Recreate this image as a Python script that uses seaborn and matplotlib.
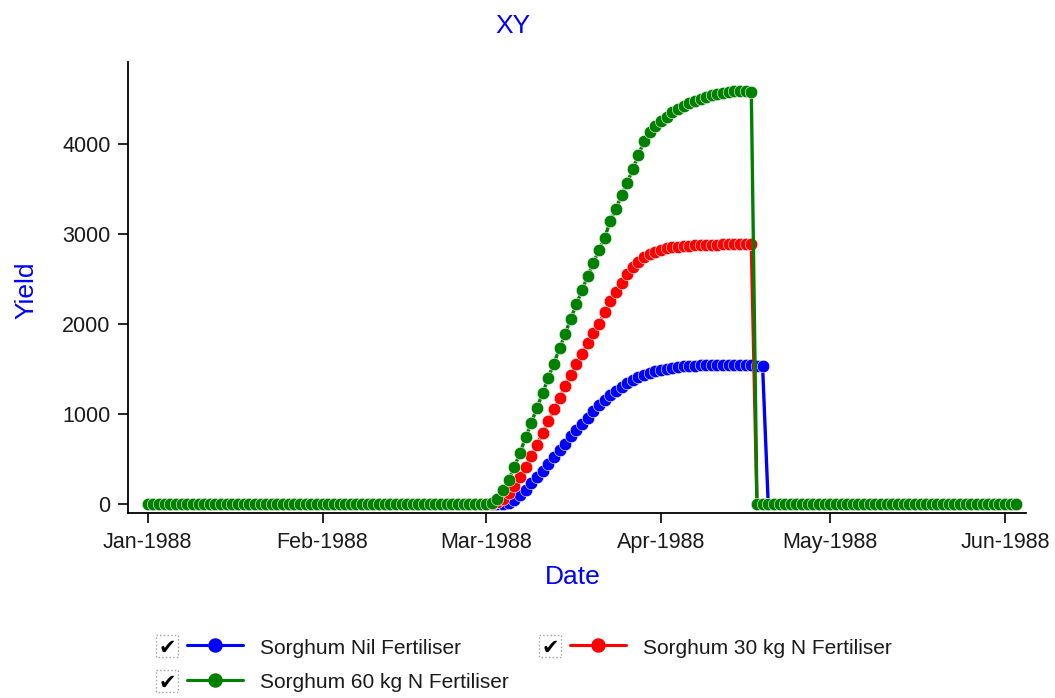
import pandas as pd
import matplotlib
matplotlib.use('Agg')
import matplotlib.pyplot as plt
import matplotlib.dates as mdates
from matplotlib.patches import Rectangle
from matplotlib.lines import Line2D
import seaborn as sns

# daily dates on the chart, and first day of the growing season
start_date = '1988-01-01'
end_date = '1988-06-03'
season_start = '1988-03-02'

# daily yield from season start (zero outside the season)
nil_yield = [0, 0, 0, 10, 40, 95, 160, 230, 300, 370,
             440, 520, 600, 670, 750, 820, 890, 960, 1030, 1095,
             1155, 1215, 1260, 1305, 1345, 1380, 1410, 1435, 1460, 1475,
             1490, 1505, 1515, 1522, 1528, 1533, 1537, 1540, 1542, 1543,
             1544, 1544, 1544, 1544, 1543, 1542, 1540, 1537, 1533]
n30_yield = [0, 20, 60, 120, 200, 300, 410, 530, 660, 790,
             920, 1050, 1180, 1310, 1430, 1550, 1670, 1790, 1900, 2000,
             2130, 2250, 2350, 2460, 2550, 2630, 2690, 2740, 2775, 2800,
             2820, 2840, 2850, 2858, 2865, 2870, 2873, 2876, 2879, 2881,
             2883, 2885, 2886, 2887, 2888, 2889, 2889]
n60_yield = [10, 60, 150, 270, 410, 570, 740, 900, 1070, 1230,
             1400, 1560, 1730, 1890, 2060, 2220, 2380, 2530, 2680, 2820,
             2960, 3140, 3280, 3430, 3570, 3720, 3880, 4030, 4130, 4200,
             4260, 4300, 4350, 4390, 4420, 4450, 4480, 4500, 4520, 4540,
             4555, 4565, 4575, 4585, 4590, 4585, 4580]

series_names = ['Sorghum Nil Fertiliser', 'Sorghum 30 kg N Fertiliser', 'Sorghum 60 kg N Fertiliser']
series_colors = ['#0000ff', '#ff0000', '#008000']
y_ticks = [0, 1000, 2000, 3000, 4000]

dates = pd.date_range(start_date, end_date, freq='D')
offset = (pd.Timestamp(season_start) - dates[0]).days


def full_series(values):
    out = [0] * len(dates)
    out[offset:offset + len(values)] = values
    return out


sns.set_style('ticks')
plt.rcParams['font.family'] = ['Liberation Sans', 'DejaVu Sans']

W, H = 1055, 698
fig = plt.figure(figsize=(W / 100, H / 100), dpi=100)
ax = fig.add_axes([128 / W, 1 - 513 / H, 898 / W, 451 / H])

for name, color, values in zip(series_names, series_colors, [nil_yield, n30_yield, n60_yield]):
    sns.lineplot(x=dates, y=full_series(values), color=color, marker='o', markersize=9,
                 markeredgecolor='white', markeredgewidth=0.4, linewidth=2.4,
                 errorbar=None, ax=ax)

ax.set_xlim(dates[0] - pd.Timedelta(days=3.5), dates[0] + pd.Timedelta(days=155.7))
ax.set_ylim(-100, 4911)
ax.set_yticks(y_ticks)
ax.xaxis.set_major_locator(mdates.MonthLocator())
ax.xaxis.set_major_formatter(mdates.DateFormatter('%b-%Y'))

sns.despine(ax=ax)
for side in ['left', 'bottom']:
    ax.spines[side].set_linewidth(1.3)
    ax.spines[side].set_color('black')
ax.tick_params(length=7.5, width=1.2, color='black', labelcolor='#1a1a1a', labelsize=15.5)
ax.tick_params(axis='x', pad=6)
ax.tick_params(axis='y', pad=5)

ax.set_xlabel('Date', fontsize=19, color='#0000ff')
ax.xaxis.set_label_coords(0.4955, -0.142)
ax.xaxis.label.set_va('center')
ax.set_ylabel('Yield', fontsize=19, color='#0000ff')
ax.yaxis.set_label_coords(-0.113, 0.494)
ax.yaxis.label.set_va('center')
fig.text(513 / W, 1 - 26 / H, 'XY', fontsize=19, color='#0000ff', ha='center', va='center')

# legend with check boxes, drawn in pixel coordinates
lg = fig.add_axes([0, 0, 1, 1])
lg.set_xlim(0, W)
lg.set_ylim(H, 0)
lg.axis('off')
slots = [(156, 646), (539, 646), (156, 681)]
for (x0, yc), name, color in zip(slots, series_names, series_colors):
    lg.add_patch(Rectangle((x0, yc - 11), 22, 22, fill=False, edgecolor='#a0a0a0',
                           linestyle=':', linewidth=1))
    lg.text(x0 + 11.5, yc + 2, '\u2714', family='DejaVu Sans', fontsize=15,
            ha='center', va='center', color='black')
    lg.add_line(Line2D([x0 + 31, x0 + 59, x0 + 87], [yc - 1] * 3, color=color, linewidth=2.2,
                       marker='o', markersize=9.4, markevery=[1]))
    lg.text(x0 + 104, yc + 7.5, name, fontsize=15, color='#1a1a1a', va='baseline')

fig.savefig('out.png', dpi=100)
